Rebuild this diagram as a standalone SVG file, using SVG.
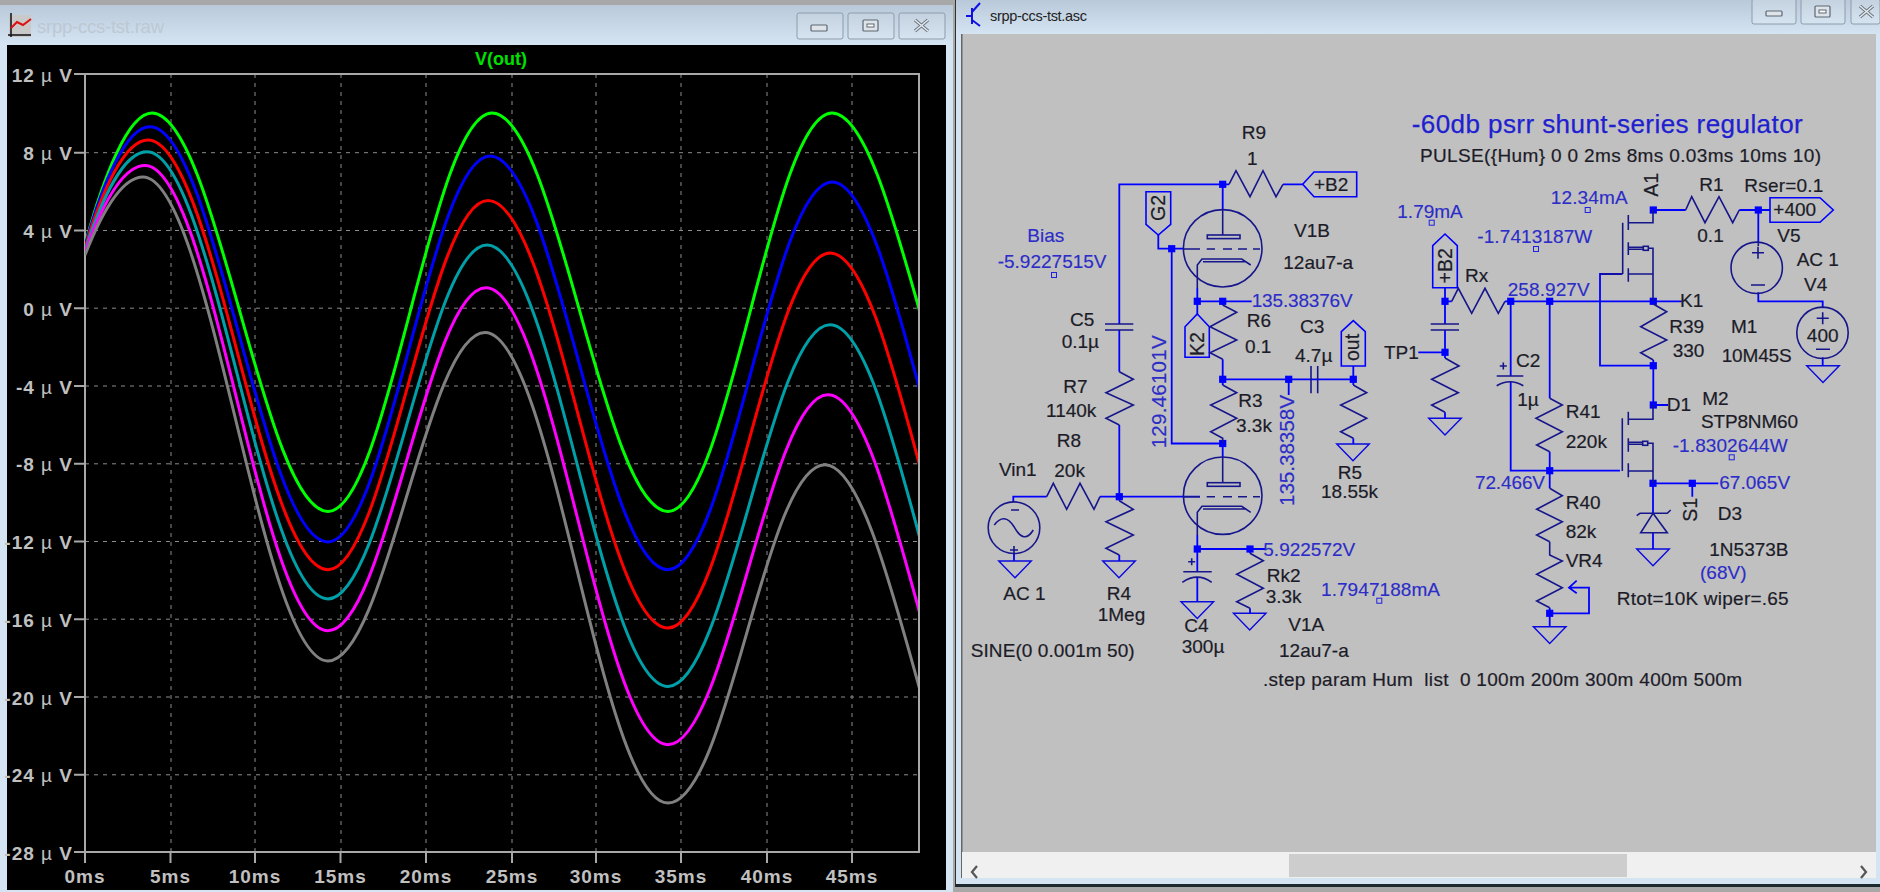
<svg xmlns="http://www.w3.org/2000/svg" width="1880" height="892" viewBox="0 0 1880 892">
<style>
text{font-family:"Liberation Sans",Arial,sans-serif;white-space:pre}
.w{fill:none;stroke:#0000ff;stroke-width:1.8}
.s{fill:none;stroke:#16168c;stroke-width:1.6;stroke-linejoin:miter}
.f{fill:none;stroke:#0000ff;stroke-width:1.6}
.t{font-size:19px;fill:#1c1c28;stroke:#1c1c28;stroke-width:.2}
.b{font-size:19px;fill:#2c2cc8;stroke:#2c2cc8;stroke-width:.15}
.v{font-size:20.7px;fill:#2c2cc8;stroke:#2c2cc8;stroke-width:.15}
.r{font-size:19.5px;fill:#1c1c28;stroke:#1c1c28;stroke-width:.2}
.ax{font-size:19px;font-weight:700;fill:#c0c0c0;letter-spacing:1px}
.u{font-weight:400}
.yl{text-anchor:end}
.xl{text-anchor:middle}
.grid{stroke:#8c8c8c;stroke-width:1;stroke-dasharray:4 5;fill:none}
.axis{stroke:#a8a8a8;stroke-width:2;fill:none}
.tr{fill:none;stroke-width:3;stroke-linejoin:round}
.btn{fill:url(#btn);stroke:#8d9cab;stroke-width:1}
.gl{fill:#dfe4ea;stroke:#5c6670;stroke-width:1.2}
</style>
<defs>
<linearGradient id="bar" x1="0" y1="0" x2="0" y2="1"><stop offset="0" stop-color="#b9c9d9"/><stop offset="1" stop-color="#d5e4f3"/></linearGradient>
<linearGradient id="btn" x1="0" y1="0" x2="0" y2="1"><stop offset="0" stop-color="#c4d2e0"/><stop offset="1" stop-color="#d6e3f0"/></linearGradient>
<clipPath id="pc"><rect x="85" y="74" width="833" height="778"/></clipPath>
<rect id="j" x="-3.6" y="-3.6" width="7.2" height="7.2" fill="#0000ff"/>
<rect id="q" x="-2.5" y="-2.5" width="5" height="5" fill="none" stroke="#2020e0" stroke-width="1"/>
<polygon id="gnd" points="-16.3,0 16.3,0 0,16.7" fill="none" stroke="#0a0ae0" stroke-width="1.4"/>
</defs>

<rect width="1880" height="892" fill="#a8a8a8"/>

<g id="plot-window">
<rect x="0" y="5" width="953" height="887" fill="#d5e4f3"/>
<rect x="0" y="5" width="953" height="39" fill="url(#bar)"/>
<rect x="7" y="45" width="939" height="845" fill="#000"/>
<g id="plot-icon">
<rect x="9" y="15" width="22" height="22" fill="#c9c9c9"/>
<path d="M11 13V37M8 35H31" stroke="#111" stroke-width="1.5" fill="none"/>
<path d="M11 28L17 22L23 25L31 19" stroke="#e01010" stroke-width="2" fill="none"/>
</g>
<text x="37" y="33" font-size="18.5" fill="#bcc8d3" textLength="127">srpp-ccs-tst.raw</text>
<rect class="btn" x="797" y="13" width="46" height="26" rx="2"/>
<rect class="gl" x="811" y="25" width="16" height="6" rx="1"/>
<rect class="btn" x="848" y="13" width="46" height="26" rx="2"/>
<rect class="gl" x="863" y="20" width="15" height="11" rx="1"/><rect x="867" y="24" width="7" height="3" fill="#fff" stroke="#5c6670"/>
<rect class="btn" x="899" y="13" width="46" height="26" rx="2"/>
<path d="M915 20L928 31M928 20L915 31" stroke="#6c7680" stroke-width="3.4" fill="none"/>
<path d="M915 20L928 31M928 20L915 31" stroke="#e8ecf0" stroke-width="1.4" fill="none"/>

<g id="plot-grid">
<path class="grid" d="M85 152.7H919M85 230.5H919M85 308.2H919M85 386H919M85 463.8H919M85 541.5H919M85 619.2H919M85 697H919M85 774.8H919"/>
<path class="grid" d="M171 74V852M255 74V852M341 74V852M426 74V852M512 74V852M596 74V852M681 74V852M767 74V852M852 74V852"/>
</g>
<g id="plot-axes">
<rect class="axis" x="85" y="74" width="834" height="778"/>
<path class="axis" d="M74 74H85M74 152.7H85M74 230.5H85M74 308.2H85M74 386H85M74 463.8H85M74 541.5H85M74 619.2H85M74 697H85M74 774.8H85M74 852H85"/>
<path class="axis" d="M85 852V863M170.5 852V863M255 852V863M340.5 852V863M426 852V863M512 852V863M596 852V863M681 852V863M767 852V863M852 852V863"/>
</g>
<g id="plot-labels">
<text class="ax yl" x="73" y="81.5">12 <tspan class="u">µ</tspan> V</text>
<text class="ax yl" x="73" y="160">8 <tspan class="u">µ</tspan> V</text>
<text class="ax yl" x="73" y="238">4 <tspan class="u">µ</tspan> V</text>
<text class="ax yl" x="73" y="315.7">0 <tspan class="u">µ</tspan> V</text>
<text class="ax yl" x="73" y="393.5">-4 <tspan class="u">µ</tspan> V</text>
<text class="ax yl" x="73" y="471.3">-8 <tspan class="u">µ</tspan> V</text>
<text class="ax yl" x="73" y="549">-12 <tspan class="u">µ</tspan> V</text>
<text class="ax yl" x="73" y="626.7">-16 <tspan class="u">µ</tspan> V</text>
<text class="ax yl" x="73" y="704.5">-20 <tspan class="u">µ</tspan> V</text>
<text class="ax yl" x="73" y="782.3">-24 <tspan class="u">µ</tspan> V</text>
<text class="ax yl" x="73" y="859.5">-28 <tspan class="u">µ</tspan> V</text>
<text class="ax xl" x="85" y="882.7">0ms</text>
<text class="ax xl" x="170.5" y="882.7">5ms</text>
<text class="ax xl" x="255" y="882.7">10ms</text>
<text class="ax xl" x="340.5" y="882.7">15ms</text>
<text class="ax xl" x="426" y="882.7">20ms</text>
<text class="ax xl" x="512" y="882.7">25ms</text>
<text class="ax xl" x="596" y="882.7">30ms</text>
<text class="ax xl" x="681" y="882.7">35ms</text>
<text class="ax xl" x="767" y="882.7">40ms</text>
<text class="ax xl" x="852" y="882.7">45ms</text>
<text x="475" y="65" font-size="18" font-weight="700" fill="#00e000">V(out)</text>
</g>
<g id="plot-traces" clip-path="url(#pc)">
<path class="tr" stroke="#00ff00" d="M85,245 C103,178 128,113 152,113 C216,113 264,511.4 328,511.4 C388,511.4 432,113 492,113 C556,113 604,511.4 668,511.4 C728,511.4 772,113 832,113 C896,113 944,511.4 1008,511.4"/>
<path class="tr" stroke="#0000ff" d="M85,246 C102,184 126,126.7 150,126.7 C215,126.7 263,541.9 328,541.9 C387,541.9 431,156 490,156 C555,156 603,569.7 668,569.7 C728,569.7 772,182 832,182 C896,182 944,598.9 1008,598.9"/>
<path class="tr" stroke="#ff0000" d="M85,248 C102,190 125,140 148,140 C214,140 262,569.7 328,569.7 C386,569.7 430,200.4 488,200.4 C554,200.4 602,628 668,628 C727,628 771,252.9 830,252.9 C895,252.9 943,672.8 1008,672.8"/>
<path class="tr" stroke="#00a0a8" d="M85,250 C102,198 124,151.8 147,151.8 C213,151.8 262,598.9 328,598.9 C386,598.9 429,245 487,245 C553,245 602,686.4 668,686.4 C727,686.4 771,324.8 830,324.8 C895,324.8 943,744.7 1008,744.7"/>
<path class="tr" stroke="#ff00ff" d="M85,252 C102,205 123,165.4 145,165.4 C212,165.4 261,630.7 328,630.7 C386,630.7 428,287.8 486,287.8 C552,287.8 602,744.7 668,744.7 C727,744.7 769,394.8 828,394.8 C893,394.8 943,818.6 1008,818.6"/>
<path class="tr" stroke="#808080" d="M85,255 C102,212 122,177 143,177 C210,177 261,661 328,661 C386,661 427,332.6 485,332.6 C552,332.6 601,803 668,803 C728,803 765,464.7 825,464.7 C890,464.7 943,890.5 1008,890.5"/>
</g>
</g>

<g id="schematic-window">
<rect x="955" y="0" width="925" height="887" fill="#d5e4f3"/>
<rect x="955" y="0" width="1" height="887" fill="#303030"/>
<rect x="956" y="0" width="924" height="34" fill="url(#bar)"/>
<rect x="962" y="34" width="914" height="818" fill="#c0c0c0"/>
<rect x="961" y="34" width="1.5" height="844" fill="#666"/>
<rect x="962" y="852" width="914" height="26" fill="#f0f0f0"/>
<rect x="1289" y="854" width="338" height="23" fill="#cdcdcd"/>
<path d="M977 866L972 872L977 878M1861 866L1866 872L1861 878" fill="none" stroke="#555" stroke-width="2.2"/>
<rect x="955" y="884" width="925" height="3" fill="#1c2a30"/>
<rect x="955" y="887" width="925" height="5" fill="#a8a8a8"/>
<g id="sch-icon">
<path d="M972 8V24M966 16H972M972 12L980 3M972 20L980 26" stroke="#1010e0" stroke-width="2" fill="none"/>
</g>
<text x="990" y="21" font-size="14.5" fill="#222" textLength="97">srpp-ccs-tst.asc</text>
<rect class="btn" x="1752" y="-1" width="44" height="25" rx="2"/>
<rect class="gl" x="1766" y="11" width="16" height="5" rx="1"/>
<rect class="btn" x="1801" y="-1" width="44" height="25" rx="2"/>
<rect class="gl" x="1815" y="6" width="15" height="11" rx="1"/><rect x="1819" y="10" width="7" height="3" fill="#fff" stroke="#5c6670"/>
<rect class="btn" x="1851" y="-1" width="29" height="25" rx="2"/>
<path d="M1860 6L1873 17M1873 6L1860 17" stroke="#6c7680" stroke-width="3.4" fill="none"/>
<path d="M1860 6L1873 17M1873 6L1860 17" stroke="#e8ecf0" stroke-width="1.4" fill="none"/>
</g>

<g id="connectors">
<path class="w" d="M1302.7 184.3H1283M1229 184.3H1119.3V324M1119.3 330V371.7M1222.7 184.3V209M1158.3 235V248.7H1183.4M1171.7 248.7V443.5H1222.7V458M1222.7 385V379.3H1353.3V366M1311 379.3H1288.7V395M1317.7 379.3H1353.3V385"/>
<path class="w" d="M1197.3 288V314M1197.3 301.3H1251.7M1222.7 301.3V305M1222.7 359.3V379.3"/>
<path class="w" d="M1119.3 425V500.7M1013.3 502V496.7H1046.7M1100 496.7H1200M1197.3 535V571.7M1197.3 549H1265M1250 549V553.3M1014 553.3V561M1119.3 555V561M1197.3 577V601.7M1250 608.3V613.3M1353.3 438.3V444"/>
<path class="w" d="M1653.3 210H1685.7M1739.3 210H1770M1758.3 210V243.3M1758.3 292.3V301.3H1822.7V308.3M1822.7 357.3V365.7M1445 287.7V324M1445 330V358M1418.3 352.3H1445M1445 412.3V418M1445 301.3H1451.7M1505 301.3H1681.7M1510.7 301.3V376M1510.7 381.7V470.7H1620M1549.7 301.3V398.3M1549.7 451.7V488.3M1549.7 607.7V626.7M1549.7 613.3H1589V587.7H1569M1576.7 580.7L1569 587.7L1576.7 593.3"/>
<path class="w" d="M1622 274H1600V365.7H1653.3V405M1653.3 405H1668M1653.3 365.7V360M1653.3 301.3V304M1653 483.3H1718.3M1692.3 483.3V496.7M1653 483.3V513.3M1653 532.7V549"/>
<g id="junctions">
<use href="#j" x="1222.7" y="184.3"/><use href="#j" x="1171.7" y="248.7"/><use href="#j" x="1197.3" y="301.3"/><use href="#j" x="1222.7" y="301.3"/><use href="#j" x="1222.7" y="379.3"/><use href="#j" x="1288.7" y="379.3"/><use href="#j" x="1353.3" y="379.3"/><use href="#j" x="1222.7" y="443.5"/><use href="#j" x="1119.3" y="496.7"/><use href="#j" x="1197.3" y="549"/><use href="#j" x="1250" y="549"/>
<use href="#j" x="1653.3" y="210"/><use href="#j" x="1758.3" y="210"/><use href="#j" x="1445" y="301.3"/><use href="#j" x="1510.7" y="301.3"/><use href="#j" x="1549.7" y="301.3"/><use href="#j" x="1653.3" y="301.3"/><use href="#j" x="1445" y="352.3"/><use href="#j" x="1653.3" y="365.7"/><use href="#j" x="1653.3" y="405"/><use href="#j" x="1549.7" y="470.7"/><use href="#j" x="1653" y="483.3"/><use href="#j" x="1692.3" y="483.3"/><use href="#j" x="1549.7" y="613.3"/>
</g>
</g>

<g id="R9"><path class="s" d="M1229 184.3L1236 170.7L1250 196.7L1263 170.7L1276 196.7L1283 184.3"/><text class="t" x="1241.7" y="139">R9</text><text class="t" x="1247" y="165">1</text></g>
<g id="flag-B2"><polygon class="f" points="1302.7,184.3 1314,172 1356.7,172 1356.7,196.7 1314,196.7"/><text class="t" x="1314" y="190.7">+B2</text></g>
<g id="flag-G2"><polygon class="f" points="1146,191.7 1170.7,191.7 1170.7,224.3 1158.3,235 1146,224.3"/><text class="r" transform="translate(1165 221) rotate(-90)">G2</text></g>
<g id="V1B">
<ellipse class="s" cx="1222.7" cy="248.3" rx="39.3" ry="38.7"/>
<rect class="s" x="1207.3" y="235" width="32.7" height="3.6"/>
<path class="s" d="M1222.7 209V235M1183.4 249H1200M1206.7 249H1215M1223 249H1232M1238 249H1247M1253 249H1260M1197.3 288V265L1202 259H1241.7L1250.7 265M1203 261.7H1246"/>
<text class="t" x="1294" y="236.7">V1B</text><text class="t" x="1283.3" y="269.3">12au7-a</text>
</g>
<g id="bias-label"><text class="b" x="1027.3" y="241.7">Bias</text><text class="b" x="997.7" y="268.3">-5.9227515V</text><use href="#q" x="1054" y="275"/></g>
<g id="C5"><path class="s" d="M1105 324H1133.3M1105 330H1133.3"/><text class="t" x="1070" y="326">C5</text><text class="t" x="1061.7" y="348.3">0.1µ</text></g>
<g id="R7"><path class="s" d="M1119.3 371.7L1133.3 379.3L1106 392.7L1133.3 405L1106 418.3L1119.3 425"/><text class="t" x="1063.3" y="392.7">R7</text><text class="t" x="1046" y="416.7">1140k</text></g>
<g id="net-g-label"><text class="v" transform="translate(1165.7 448.3) rotate(-90)" textLength="113">129.46101V</text></g>
<g id="net-k2-label"><text class="b" x="1251.7" y="307.3" textLength="101">135.38376V</text></g>
<g id="flag-K2"><polygon class="f" points="1197.3,314 1209.3,326.7 1209.3,357.3 1185,357.3 1185,326.7"/><text class="r" transform="translate(1204 356) rotate(-90)">K2</text></g>
<g id="R6"><path class="s" d="M1222.7 305L1236.7 312.3L1210 326.7L1236.7 340L1210 352.7L1222.7 359.3"/><text class="t" x="1246.7" y="327.3">R6</text><text class="t" x="1245" y="353.3">0.1</text></g>
<g id="C3"><path class="s" d="M1311 366V393.3M1317.7 366V393.3"/><text class="t" x="1300" y="333.3">C3</text><text class="t" x="1295" y="361.7">4.7µ</text></g>
<g id="flag-out"><polygon class="f" points="1341.3,366 1365.3,366 1365.3,331.7 1353.3,320.7 1341.3,331.7"/><text class="r" transform="translate(1358.5 361) rotate(-90)">out</text></g>
<g id="R3"><path class="s" d="M1222.7 385L1236.7 392.7L1210.7 405L1236.7 418.3L1210.7 431.7L1222.7 438.3V443.5"/><text class="t" x="1238.3" y="406.7">R3</text><text class="t" x="1236" y="431.7">3.3k</text></g>
<g id="net-out-label"><text class="v" transform="translate(1294 506) rotate(-90)" textLength="111">135.38358V</text></g>
<g id="R5"><path class="s" d="M1353.3 385L1366.7 392.7L1340.7 405L1366.7 418.3L1340.7 431.7L1353.3 438.3"/><use href="#gnd" x="1353" y="444"/><text class="t" x="1337.7" y="479.3">R5</text><text class="t" x="1321" y="498.3">18.55k</text></g>
<g id="R8"><path class="s" d="M1046.7 496.7L1053.3 483.3L1066.7 509.3L1080 483.3L1094 509.3L1100 496.7"/><text class="t" x="1056.7" y="447.3">R8</text><text class="t" x="1054.3" y="477.3">20k</text></g>
<g id="Vin1"><circle class="s" cx="1014" cy="527.7" r="25.8"/><path class="s" d="M1011 510H1019M1014 546V554M1010 550H1018M994.3 525Q1004.3 511.7 1014 526.7Q1024 545 1033.3 530"/><use href="#gnd" x="1015" y="561"/><text class="t" x="999" y="476">Vin1</text><text class="t" x="1003.3" y="600">AC 1</text><text class="t" x="970.7" y="657.3" textLength="164">SINE(0 0.001m 50)</text></g>
<g id="R4"><path class="s" d="M1119.3 500.7L1133.3 509.3L1106 521.7L1133.3 535L1106 548.3L1119.3 555"/><use href="#gnd" x="1119" y="561"/><text class="t" x="1106.7" y="600">R4</text><text class="t" x="1097.7" y="620.7">1Meg</text></g>
<g id="V1A">
<ellipse class="s" cx="1222.7" cy="495.7" rx="39.3" ry="38.7"/>
<rect class="s" x="1207.3" y="482.7" width="32.7" height="3.6"/>
<path class="s" d="M1222.7 458V482.7M1183.4 496.7H1200M1206.7 496.7H1215M1223 496.7H1232M1238 496.7H1247M1253 496.7H1260M1197.3 535V512.3L1202 506.3H1241.7L1250.7 512.3M1203 509H1246"/>
<text class="t" x="1288.3" y="630.7">V1A</text><text class="t" x="1279" y="657.3">12au7-a</text>
</g>
<g id="cathode-label"><text class="b" x="1263.3" y="555.7">5.922572V</text></g>
<g id="C4"><path class="s" d="M1183.3 571.7H1211.7M1182.3 582.3Q1197.3 572 1211.7 582.3M1188.2 561.7H1195.2M1191.7 558.2V565.2"/><use href="#gnd" x="1197.3" y="601.7"/><text class="t" x="1184.3" y="631.7">C4</text><text class="t" x="1181.7" y="653.3">300µ</text></g>
<g id="Rk2"><path class="s" d="M1250 553.3L1263.3 560.7L1236.7 574.3L1263.3 588.3L1236.7 601.7L1250 608.3"/><use href="#gnd" x="1249.7" y="613.3"/><text class="t" x="1266.7" y="582.3">Rk2</text><text class="t" x="1265.7" y="603.3">3.3k</text></g>
<g id="I-label"><text class="b" x="1321" y="596" textLength="119">1.7947188mA</text><use href="#q" x="1379.3" y="600.7"/></g>

<g id="title"><text x="1411.7" y="133.3" font-size="26" fill="#2020d0" stroke="#2020d0" stroke-width=".25" textLength="391">-60db psrr shunt-series regulator</text></g>
<g id="pulse"><text class="t" x="1420" y="162.3" textLength="401">PULSE({Hum} 0 0 2ms 8ms 0.03ms 10ms 10)</text></g>
<g id="labels-right"><text class="b" x="1550.7" y="204" textLength="77">12.34mA</text><use href="#q" x="1587.7" y="210"/><text class="b" x="1397.3" y="217.7">1.79mA</text><use href="#q" x="1431.7" y="222.7"/><text class="b" x="1477.3" y="242.7" textLength="115">-1.7413187W</text><use href="#q" x="1536" y="249"/></g>
<g id="A1-label"><text class="r" transform="translate(1658.3 196.7) rotate(-90)">A1</text></g>
<g id="R1"><path class="s" d="M1685.7 210L1691.7 196.7L1705 222.7L1719 196.7L1732.7 222.7L1739.3 210"/><text class="t" x="1699.3" y="191">R1</text><text class="t" x="1697.3" y="241.7">0.1</text><text class="t" x="1744.3" y="191.7" textLength="79">Rser=0.1</text></g>
<g id="flag-400"><polygon class="f" points="1770,197.7 1820,197.7 1833.3,210 1820,222.3 1770,222.3"/><text class="t" x="1773.3" y="216">+400</text></g>
<g id="V5"><circle class="s" cx="1756.7" cy="267.8" r="25.7"/><path class="s" d="M1758.3 243.3V246M1752 252.7H1764M1758 246.7V258.7M1751 285H1765"/><text class="t" x="1777.3" y="241.7">V5</text><text class="t" x="1796.7" y="265.7">AC 1</text><text class="t" x="1804" y="291">V4</text></g>
<g id="V4"><circle class="s" cx="1822.5" cy="332.8" r="25.7"/><path class="s" d="M1816.7 318.3H1828.7M1822.7 312.3V324.3M1816 349.3H1830"/><text class="t" x="1822.7" y="342.3" text-anchor="middle">400</text><use href="#gnd" x="1823" y="365.7"/></g>
<g id="M1"><path class="s" d="M1653 209.7V222.7H1628.3M1628.3 215V230M1628.3 242.3V255M1628.3 268.3V281.7M1622.7 222.7V274M1622.7 274H1600.7M1628.3 274H1653M1628.3 247.3H1643.3M1628.3 249.3H1643.3M1648.3 248.3H1653V301"/><rect class="s" x="1643.3" y="246.3" width="5" height="4"/><text class="t" x="1731" y="333.3">M1</text><text class="t" x="1721.7" y="361.7" textLength="70">10M45S</text></g>
<g id="K1-label"><text class="t" x="1680" y="307.3">K1</text></g>
<g id="flag-B2-2"><polygon class="f" points="1445,234 1457.3,245.7 1457.3,287.7 1432.7,287.7 1432.7,245.7"/><text class="r" transform="translate(1451.5 283.5) rotate(-90)">+B2</text></g>
<g id="Rx"><path class="s" d="M1451.7 301.3L1458.3 288.3L1471.7 313.3L1485 288.3L1498.3 313.3L1505 301.3"/><text class="t" x="1465" y="282.3">Rx</text></g>
<g id="net-rx-label"><text class="b" x="1507.7" y="295.7" textLength="82">258.927V</text></g>
<g id="Cx"><path class="s" d="M1430.7 324H1459M1430.7 330H1459"/></g>
<g id="TP1"><text class="t" x="1384" y="359">TP1</text></g>
<g id="Rtp"><path class="s" d="M1445 358L1459 366L1431.7 379.3L1458.3 392.7L1431.7 405L1445 412.3"/><use href="#gnd" x="1445" y="418.3"/></g>
<g id="C2"><path class="s" d="M1496.7 376H1523.3M1496.7 385.7Q1510 377.7 1523.3 385.7M1499.8 366H1506.8M1503.3 362.5V369.5"/><text class="t" x="1516" y="366.7">C2</text><text class="t" x="1517.3" y="406">1µ</text></g>
<g id="R39"><path class="s" d="M1653.3 304L1666.7 311.7L1640.7 326.7L1666.7 340L1640.7 352.7L1653.3 360"/><text class="t" x="1669.3" y="333.3">R39</text><text class="t" x="1672.7" y="357.3">330</text></g>
<g id="R41"><path class="s" d="M1549.7 398.3L1562.3 405L1536 418.3L1562.3 431.7L1536.7 445L1549.7 451.7"/><text class="t" x="1565.7" y="418.3">R41</text><text class="t" x="1565.7" y="447.7">220k</text></g>
<g id="net-gate-label"><text class="b" x="1475" y="489" textLength="70">72.466V</text></g>
<g id="R40"><path class="s" d="M1549.7 488.3L1562.3 495.7L1536.7 509.3L1562.3 521.7L1536.7 535L1549.7 541.7"/><text class="t" x="1565.7" y="509">R40</text><text class="t" x="1565.7" y="538.3">82k</text></g>
<g id="VR4"><path class="s" d="M1549.7 541.7V555L1562.3 561L1536.7 574.3L1562.3 587.7L1536.7 601L1549.7 607.7"/><use href="#gnd" x="1549.7" y="626.7"/><text class="t" x="1565.7" y="567.3">VR4</text><text class="t" x="1616.7" y="605" textLength="172">Rtot=10K wiper=.65</text></g>
<g id="M2"><path class="s" d="M1653 404.7V419.3H1628.3M1628.3 411.7V425M1628.3 438.3V451.7M1628.3 463.3V477.3M1622.3 418.3V471M1628.3 471H1653M1628.3 442.3H1642.7M1628.3 444.3H1642.7M1647.7 443.3H1653V483.3"/><rect class="s" x="1642.7" y="441.3" width="5" height="4"/><text class="t" x="1666.7" y="411">D1</text><text class="t" x="1702.3" y="405">M2</text><text class="t" x="1701" y="427.7" textLength="97">STP8NM60</text><text class="b" x="1672.7" y="451.7" textLength="115">-1.8302644W</text><use href="#q" x="1731.7" y="457.3"/></g>
<g id="net-src-label"><text class="b" x="1719.3" y="489.3">67.065V</text><text class="r" transform="translate(1697.3 521.7) rotate(-90)">S1</text></g>
<g id="D3"><path class="s" d="M1636.7 515.7L1640 513.3H1667.3L1670.7 510M1653 513.3L1667.3 532.7H1640.7Z"/><use href="#gnd" x="1653" y="549"/><text class="t" x="1717.7" y="520">D3</text><text class="t" x="1709.3" y="556">1N5373B</text><text class="b" x="1700" y="579.3">(68V)</text></g>
<g id="step"><text class="t" x="1263" y="686" textLength="479">.step param Hum  list  0 100m 200m 300m 400m 500m</text></g>
</svg>
